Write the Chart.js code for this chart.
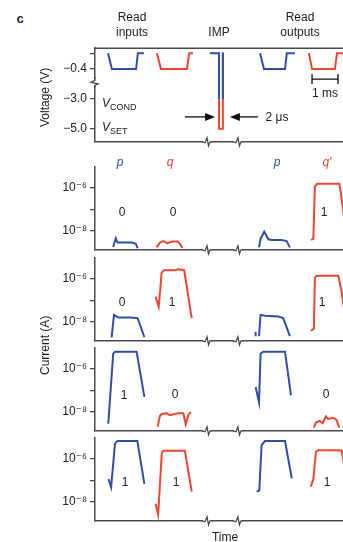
<!DOCTYPE html>
<html>
<head>
<meta charset="utf-8">
<script src="https://cdn.jsdelivr.net/npm/chart.js@4.4.0/dist/chart.umd.min.js"></script>
<style>
  body { margin: 0; background: #fff; }
  #wrap { position: relative; width: 343px; height: 542px; overflow: hidden; font-family: 'Liberation Sans', Arial, sans-serif; color: #222; }
  canvas { position: absolute; left: 0; z-index: 1; }
  .lbl { position: absolute; z-index: 2; font-size: 12px; white-space: nowrap; transform: translate(-50%, -50%); line-height: 15px; text-align: center; }
  .rot { position: absolute; z-index: 2; font-size: 12px; width: 16px; height: 80px; line-height: 16px; text-align: center;
         writing-mode: vertical-rl; transform: rotate(180deg); white-space: nowrap; color: #222; }
  .blue { color: #2f4fa6; font-style: italic; }
  .red { color: #ee4530; font-style: italic; }
  .vl { position: absolute; z-index: 2; font-size: 12px; transform: translateY(-50%); }
  .vl sub { font-size: 9px; vertical-align: -3px; }
</style>
</head>
<body>
<div id="wrap">
  <canvas id="cV" width="370" height="114" style="top:38px"></canvas>
  <canvas id="c1" width="370" height="103" style="top:157px"></canvas>
  <canvas id="c2" width="370" height="103" style="top:248px"></canvas>
  <canvas id="c3" width="370" height="103" style="top:338px"></canvas>
  <canvas id="c4" width="370" height="103" style="top:428px"></canvas>

  <div class="lbl" style="left:20px;top:18px;font-weight:bold;font-size:13px">c</div>
  <div class="lbl" style="left:132px;top:25px">Read<br>inputs</div>
  <div class="lbl" style="left:219px;top:32px">IMP</div>
  <div class="lbl" style="left:300px;top:25px">Read<br>outputs</div>
  <div class="rot" style="left:37px;top:57px">Voltage (V)</div>
  <div class="vl" style="left:102px;top:104px"><i>V</i><sub>COND</sub></div>
  <div class="vl" style="left:102px;top:128px"><i>V</i><sub>SET</sub></div>
  <div class="lbl" style="left:277px;top:117px">2 μs</div>
  <div class="lbl" style="left:325px;top:93px">1 ms</div>

  <div class="lbl blue" style="left:120px;top:162px">p</div>
  <div class="lbl red" style="left:170px;top:162px">q</div>
  <div class="lbl blue" style="left:277px;top:162px">p</div>
  <div class="lbl red" style="left:327px;top:162px">q′</div>

  <div class="lbl" style="left:122px;top:212px">0</div>
  <div class="lbl" style="left:173px;top:212px">0</div>
  <div class="lbl" style="left:324px;top:212px">1</div>
  <div class="lbl" style="left:122px;top:302px">0</div>
  <div class="lbl" style="left:172px;top:302px">1</div>
  <div class="lbl" style="left:322px;top:302px">1</div>
  <div class="lbl" style="left:124px;top:395px">1</div>
  <div class="lbl" style="left:175px;top:394px">0</div>
  <div class="lbl" style="left:326px;top:394px">0</div>
  <div class="lbl" style="left:125px;top:482px">1</div>
  <div class="lbl" style="left:176px;top:482px">1</div>
  <div class="lbl" style="left:327px;top:482px">1</div>

  <div class="rot" style="left:37px;top:305px">Current (A)</div>
  <div class="lbl" style="left:225px;top:537px">Time</div>
</div>
<script>
// time in ms (axis is broken between the read and IMP steps)
const breakTimes = [4.31, 5.50];

// ---- voltage panel ----
const voltTicks = [0, -0.4, -3.0, -5.0];
const voltTickLabels = ['', '−0.4', '−3.0', '−5.0'];
const readV = [0, -0.4, -0.4, 0, 0];
const readInP_t = [0.50, 0.65, 1.58, 1.65, 1.88];
const readInQ_t = [2.38, 2.54, 3.54, 3.62, 3.77];
const readOutP_t = [6.35, 6.50, 7.31, 7.38, 7.69];
const readOutQ_t = [8.23, 8.35, 9.23, 9.31, 9.60];
const impP_t = [4.42, 4.77, 4.77, 4.85, 4.92, 4.92, 4.95];
const impP_v = [0, 0, -3.0, null, -3.0, 0, 0];
const impQ_t = [4.77, 4.77, 4.92, 4.92];
const impQ_v = [0, -5.0, -5.0, 0];

// ---- current panels (A) ----
const curTicks = [1e-6, 1e-7, 1e-8];
const curTickLabels = ['10⁻⁶', '', '10⁻⁸'];

// row 1: p=0, q=0 -> q'=1
const r1_pIn_t = [0.70, 0.80, 0.87, 1.41, 1.57, 1.64];
const r1_pIn_i = [1.86e-9, 4.7e-9, 2.95e-9, 2.95e-9, 2.57e-9, 1.66e-9];
const r1_qIn_t = [2.37, 2.50, 2.63, 2.79, 2.97, 3.18, 3.27, 3.36];
const r1_qIn_i = [1.78e-9, 2.95e-9, 3.47e-9, 2.75e-9, 3.3e-9, 3.3e-9, 2.57e-9, 1.66e-9];
const r1_pOut_t = [6.31, 6.37, 6.51, 6.67, 6.80, 7.18, 7.37, 7.50];
const r1_pOut_i = [1.78e-9, 4.37e-9, 9.3e-9, 4.17e-9, 3.9e-9, 3.9e-9, 3.47e-9, 1.78e-9];
const r1_qOut_t = [8.31, 8.40, 8.46, 8.55, 9.40, 9.46, 9.69];
const r1_qOut_i = [3.9e-9, 4.37e-9, 1.12e-6, 1.48e-6, 1.48e-6, 5.5e-7, 4.8e-9];

// row 2: p=0, q=1 -> q'=1
const r2_pIn_t = [0.64, 0.73, 0.90, 1.35, 1.64, 1.90];
const r2_pIn_i = [2.0e-9, 2.14e-8, 1.62e-8, 1.62e-8, 1.51e-8, 2.0e-9];
const r2_qIn_t = [2.33, 2.45, 2.51, 2.56, 2.65, 3.08, 3.20, 3.43, 3.72];
const r2_qIn_i = [1.45e-7, 5.1e-8, 2.95e-7, 1.74e-6, 2.4e-6, 2.4e-6, 2.63e-6, 2.4e-6, 1.51e-8];
const r2_pDot_t = [6.18, 6.18];
const r2_pDot_i = [3.55e-9, 2.24e-9];
const r2_pOut_t = [6.31, 6.37, 6.54, 7.05, 7.24, 7.50];
const r2_pOut_i = [2.24e-9, 2.14e-8, 1.95e-8, 1.78e-8, 1.51e-8, 2.24e-9];
const r2_qOut_t = [8.31, 8.42, 8.46, 8.53, 9.36, 9.49, 9.69];
const r2_qOut_i = [4.0e-9, 5.0e-9, 1.07e-6, 1.32e-6, 1.32e-6, 2.45e-7, 4.5e-9];

// row 3: p=1, q=0 -> q'=0
const r3_pIn_t = [0.51, 0.70, 0.77, 1.60, 1.90];
const r3_pIn_i = [2.9e-9, 4.7e-6, 5.9e-6, 5.9e-6, 5.0e-8];
const r3_qIn_t = [2.41, 2.50, 2.57, 2.76, 2.88, 3.08, 3.20, 3.40, 3.49, 3.59, 3.68];
const r3_qIn_i = [2.14e-9, 6.8e-9, 8.1e-9, 8.7e-9, 7.2e-9, 8.1e-9, 8.7e-9, 8.7e-9, 2.75e-9, 7.2e-9, 1.02e-8];
const r3_pOut_t = [6.18, 6.31, 6.37, 6.47, 7.31, 7.54];
const r3_pOut_i = [1.41e-7, 2.75e-8, 4.7e-6, 5.9e-6, 5.9e-6, 5.9e-8];
const r3_qOut_t = [8.42, 8.50, 8.65, 8.76, 8.88, 8.97, 9.17, 9.29, 9.40];
const r3_qOut_i = [1.95e-9, 3.4e-9, 3.9e-9, 3.1e-9, 6.2e-9, 4.8e-9, 5.5e-9, 4.4e-9, 1.95e-9];

// row 4: p=1, q=1 -> q'=1
const r4_pIn_t = [0.52, 0.62, 0.77, 0.86, 1.63, 1.90];
const r4_pIn_i = [1.12e-7, 4.8e-8, 4.8e-6, 6.3e-6, 6.3e-6, 6.8e-8];
const r4_qIn_t = [2.33, 2.43, 2.57, 2.63, 3.46, 3.72];
const r4_qIn_i = [8.3e-9, 2.63e-9, 1.78e-6, 2.24e-6, 2.24e-6, 3.0e-8];
const r4_pOut_t = [6.22, 6.32, 6.41, 6.54, 7.31, 7.57];
const r4_pOut_i = [3.0e-8, 3.4e-8, 4.1e-6, 6.3e-6, 6.3e-6, 1.23e-7];
const r4_qOut_t = [8.30, 8.40, 8.50, 8.59, 9.17, 9.49, 9.62];
const r4_qOut_i = [5.1e-8, 1.12e-7, 2.0e-6, 2.4e-6, 2.4e-6, 2.3e-6, 2.95e-7];

const BLUE = '#2f4fa6', RED = '#ee4530', AXIS = '#4a4a4a';
Chart.defaults.font.family = "'Liberation Sans', 'DejaVu Sans', Arial, sans-serif";
Chart.defaults.font.size = 12;
Chart.defaults.color = '#222';

// broken voltage axis: 0..-0.4 stretched, -0.4..-3 compressed, -3..-5 normal
function vt(v) {
  if (v === null) return null;
  if (v >= -0.4) return v * 40;
  if (v >= -3) return -16 + (v + 0.4) * 30 / 2.6;
  return -46 + (v + 3) * 15;
}

function pts(ts, ys, f) {
  return ts.map((t, i) => ({ x: t, y: f ? f(ys[i]) : ys[i] }));
}
function trace(ts, ys, color, f) {
  return { data: pts(ts, ys, f), borderColor: color, borderWidth: 2, pointRadius: 0,
           tension: 0, fill: false, spanGaps: false };
}

const deco = {
  id: 'deco',
  afterDraw(chart, args, o) {
    const { ctx, chartArea: a, scales: { x, y } } = chart;
    ctx.save();
    ctx.strokeStyle = AXIS; ctx.lineWidth = 1.3;
    breakTimes.forEach(t => {
      const px = x.getPixelForValue(t), py = a.bottom;
      ctx.fillStyle = '#fff';
      ctx.fillRect(px - 4, py - 2, 8, 4);
      ctx.beginPath();
      ctx.moveTo(px - 5, py); ctx.lineTo(px - 2, py + 1); ctx.lineTo(px, py - 4);
      ctx.lineTo(px + 1.5, py + 4); ctx.lineTo(px + 3, py); ctx.lineTo(px + 5, py);
      ctx.stroke();
    });
    if (o.frame) {
      ctx.lineWidth = 1.5;
      ctx.beginPath(); ctx.moveTo(a.left, a.top); ctx.lineTo(chart.width, a.top); ctx.stroke();
      // y-axis break
      const py = y.getPixelForValue(vt(-1.55)), px = a.left;
      ctx.fillStyle = '#fff';
      ctx.fillRect(px - 2, py - 3, 4, 6);
      ctx.lineWidth = 1.3;
      ctx.beginPath();
      ctx.moveTo(px, py - 5); ctx.lineTo(px, py - 2); ctx.lineTo(px - 4, py);
      ctx.lineTo(px + 3, py + 1.5); ctx.lineTo(px, py + 3); ctx.lineTo(px, py + 5);
      ctx.stroke();
      // 2 us arrows
      const ay = y.getPixelForValue(vt(-4.2));
      ctx.fillStyle = '#111'; ctx.strokeStyle = '#111'; ctx.lineWidth = 1.3;
      const arrow = (x0, x1) => {
        const dir = Math.sign(x1 - x0);
        ctx.beginPath(); ctx.moveTo(x0, ay); ctx.lineTo(x1 - dir * 8, ay); ctx.stroke();
        ctx.beginPath(); ctx.moveTo(x1, ay); ctx.lineTo(x1 - dir * 10, ay - 4);
        ctx.lineTo(x1 - dir * 10, ay + 4); ctx.closePath(); ctx.fill();
      };
      arrow(x.getPixelForValue(3.46), x.getPixelForValue(4.62));
      arrow(x.getPixelForValue(6.27), x.getPixelForValue(5.19));
      // 1 ms scale bar
      const by = y.getPixelForValue(vt(-1.27));
      const b0 = x.getPixelForValue(8.35), b1 = x.getPixelForValue(9.35);
      ctx.beginPath();
      ctx.moveTo(b0, by); ctx.lineTo(b1, by);
      ctx.moveTo(b0, by - 5); ctx.lineTo(b0, by + 5);
      ctx.moveTo(b1, by - 5); ctx.lineTo(b1, by + 5);
      ctx.stroke();
    }
    ctx.restore();
  }
};

function makeChart(id, datasets, yScale, frame) {
  return new Chart(document.getElementById(id), {
    type: 'line',
    data: { datasets },
    options: {
      responsive: false,
      animation: false,
      layout: { padding: { top: 10, bottom: 10, left: 0, right: 0 } },
      plugins: { legend: { display: false }, tooltip: { enabled: false }, deco: { frame } },
      scales: {
        x: {
          type: 'linear', min: 0, max: 10.58,
          ticks: { display: false },
          grid: { drawOnChartArea: false, drawTicks: false },
          border: { color: AXIS, width: 1.5 },
          afterFit: s => { s.height = 0; }
        },
        y: Object.assign({
          grid: { drawOnChartArea: false, drawTicks: true, tickLength: 5, color: AXIS, lineWidth: 1.3 },
          border: { color: AXIS, width: 1.5 },
          afterFit: s => { s.width = 95; }
        }, yScale)
      }
    },
    plugins: [deco]
  });
}

// voltage panel
makeChart('cV', [
  trace(readInP_t, readV, BLUE, vt),
  trace(readInQ_t, readV, RED, vt),
  trace(readOutP_t, readV, BLUE, vt),
  trace(readOutQ_t, readV, RED, vt),
  trace(impP_t, impP_v, BLUE, vt),
  trace(impQ_t, impQ_v, RED, vt)
], {
  type: 'linear', min: -89, max: 5,
  afterBuildTicks: s => { s.ticks = voltTicks.map(v => ({ value: vt(v) })); },
  ticks: { padding: 3, callback: (v, i) => voltTickLabels[i] }
}, true);

const logY = {
  type: 'logarithmic', min: 1.38e-9, max: 8.5e-6,
  afterBuildTicks: s => { s.ticks = curTicks.map(v => ({ value: v })); },
  ticks: { padding: 3, callback: (v, i) => curTickLabels[i] }
};

makeChart('c1', [
  trace(r1_pIn_t, r1_pIn_i, BLUE), trace(r1_qIn_t, r1_qIn_i, RED),
  trace(r1_pOut_t, r1_pOut_i, BLUE), trace(r1_qOut_t, r1_qOut_i, RED)
], logY, false);
makeChart('c2', [
  trace(r2_pIn_t, r2_pIn_i, BLUE), trace(r2_qIn_t, r2_qIn_i, RED),
  trace(r2_pDot_t, r2_pDot_i, BLUE),
  trace(r2_pOut_t, r2_pOut_i, BLUE), trace(r2_qOut_t, r2_qOut_i, RED)
], logY, false);
makeChart('c3', [
  trace(r3_pIn_t, r3_pIn_i, BLUE), trace(r3_qIn_t, r3_qIn_i, RED),
  trace(r3_pOut_t, r3_pOut_i, BLUE), trace(r3_qOut_t, r3_qOut_i, RED)
], logY, false);
makeChart('c4', [
  trace(r4_pIn_t, r4_pIn_i, BLUE), trace(r4_qIn_t, r4_qIn_i, RED),
  trace(r4_pOut_t, r4_pOut_i, BLUE), trace(r4_qOut_t, r4_qOut_i, RED)
], logY, false);
</script>
</body>
</html>
